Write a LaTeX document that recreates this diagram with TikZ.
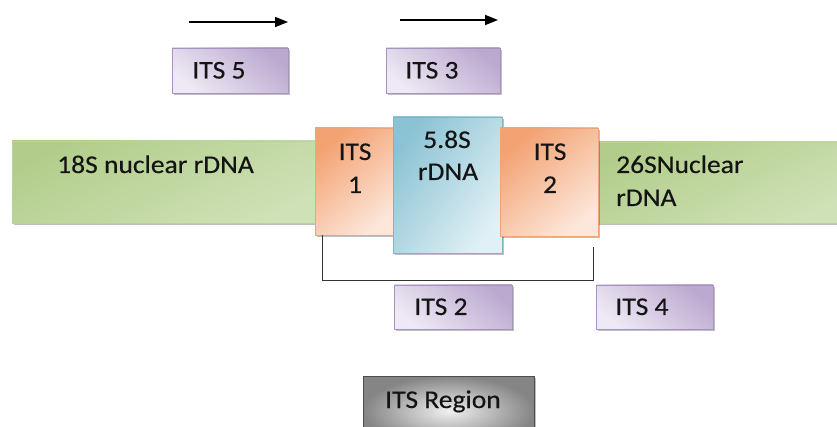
\documentclass[tikz,border=0pt]{standalone}
\usepackage{fontspec}
\setmainfont{Carlito}[FakeStretch=1.08, FakeBold=0.35]
\usetikzlibrary{arrows.meta,shadows}
\definecolor{purpA}{HTML}{BCA9D0}
\definecolor{purpM}{HTML}{E4DCEC}
\definecolor{purpB}{HTML}{EEE9F4}
\definecolor{purpE}{HTML}{A693BF}
\definecolor{grnA}{HTML}{B2CD8B}
\definecolor{grnM}{HTML}{E6EED8}
\definecolor{grnB}{HTML}{CFE1B6}
\definecolor{grnE}{HTML}{B9D39A}
\definecolor{orA}{HTML}{F3A272}
\definecolor{orM}{HTML}{F9D3BC}
\definecolor{orB}{HTML}{FCE7DA}
\definecolor{orE}{HTML}{EFA57B}
\definecolor{blA}{HTML}{8CC3D4}
\definecolor{blM}{HTML}{C5E3EC}
\definecolor{blB}{HTML}{E0F0F5}
\definecolor{blE}{HTML}{7FB6C7}
\definecolor{txt}{HTML}{141414}
\tikzset{
  box/.style={draw, inner sep=0pt, line width=0.8pt,
    drop shadow={shadow xshift=1.8pt, shadow yshift=-1.8pt, fill=black, opacity=0.25}},
  purplebox/.style={box, draw=purpE, top color=purpA, middle color=purpM, bottom color=purpB, shading angle=-40},
  greenbar/.style={box, draw=grnE, top color=grnA, middle color=grnM, bottom color=grnB, shading angle=25},
  orangebox/.style={box, draw=orE, top color=orA, middle color=orM, bottom color=orB, shading angle=40},
  bluebox/.style={box, draw=blE, top color=blA, middle color=blM, bottom color=blB, shading angle=55},
  graybox/.style={box, draw=black!70, shading=radial, inner color=black!6, outer color=black!48},
  lbl/.style={font=\fontsize{25.5}{30}\selectfont, text=txt, inner sep=0pt, text height=16pt, text depth=0pt},
  primer/.style={line width=1.6pt, -{Triangle[length=13pt,width=10pt]}},
  bracket/.style={line width=1.5pt, draw=black!80}
}
\begin{document}
\begin{tikzpicture}[x=1pt,y=-1pt]
\useasboundingbox (0,0) rectangle (837,427);
\fill[white] (0,0) rectangle (837,427);
\clip (0,0) rectangle (837,427);

% primer arrows
\coordinate (a1s) at (189,22);
\coordinate (a1e) at (288,22);
\coordinate (a2s) at (400,20);
\coordinate (a2e) at (498,20);
\draw[primer] (a1s) -- (a1e);
\draw[primer] (a2s) -- (a2e);

% primer boxes top
\node[purplebox, minimum width=116pt, minimum height=45pt] (its5) at (230,70.5) {};
\node[purplebox, minimum width=114pt, minimum height=45pt] (its3) at (443,70.5) {};
\node[lbl] (t5) at (219,70.5) {ITS 5};
\node[lbl] (t3) at (432,70.5) {ITS 3};

% rDNA bars
\node[greenbar, minimum width=304pt, minimum height=82pt] (s18) at (164,182) {};
\node[greenbar, minimum width=250pt, minimum height=81pt] (s26) at (720,182.5) {};
\node[orangebox, minimum width=82pt, minimum height=107pt] (its1) at (356,181.5) {};
\node[bluebox, minimum width=109pt, minimum height=136pt] (s58) at (447.5,185) {};
\node[orangebox, minimum width=98pt, minimum height=108pt] (its2o) at (549,182) {};

\node[lbl, anchor=west] (t18) at (57,165) {18S nuclear rDNA};
\node[lbl] (ti1a) at (355,152) {ITS};
\node[lbl] (ti1b) at (355,185) {1};
\node[lbl] (t58a) at (447,140) {5.8S};
\node[lbl] (t58b) at (448,172) {rDNA};
\node[lbl] (ti2a) at (550,152) {ITS};
\node[lbl] (ti2b) at (550,185) {2};
\node[lbl, anchor=west] (t26a) at (616,165) {26SNuclear};
\node[lbl, anchor=west] (t26b) at (616,198) {rDNA};

% bracket
\draw[bracket] ([xshift=8pt]its1.south west) -- ++(0,45) -| ([xshift=-5pt,yshift=-11pt]its2o.south east);

% primer boxes bottom
\node[purplebox, minimum width=118pt, minimum height=44pt] (its2) at (453,307) {};
\node[purplebox, minimum width=117pt, minimum height=44pt] (its4) at (654.5,307) {};
\node[lbl] (t2) at (441,307) {ITS 2};
\node[lbl] (t4) at (642,307) {ITS 4};

% ITS region
\node[graybox, minimum width=171pt, minimum height=70pt] (reg) at (448.5,411) {};
\node[lbl] (treg) at (443,400) {ITS Region};
\end{tikzpicture}
\end{document}
